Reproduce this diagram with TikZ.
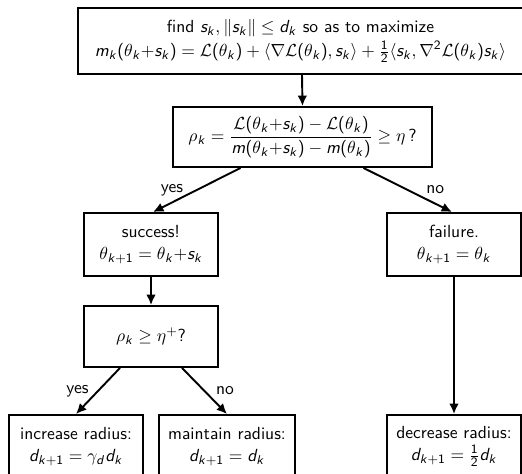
\documentclass[tikz,border=0pt]{standalone}
\usetikzlibrary{arrows.meta,calc}
\renewcommand{\familydefault}{\sfdefault}
\DeclareSymbolFont{sfit}{OT1}{cmss}{m}{sl}
\DeclareMathSymbol{s}{\mathalpha}{sfit}{`s}
\DeclareMathSymbol{k}{\mathalpha}{sfit}{`k}
\DeclareMathSymbol{d}{\mathalpha}{sfit}{`d}
\DeclareMathSymbol{m}{\mathalpha}{sfit}{`m}
\SetSymbolFont{operators}{normal}{OT1}{cmss}{m}{n}
\begin{document}
\begin{tikzpicture}[x=0.625pt,y=-0.625pt,
  box/.style={draw,line width=1.2pt,align=center,inner sep=0pt,font=\fontsize{10.95}{13.6}\selectfont\sffamily},
  arr/.style={line width=1.2pt,-{Latex[length=6.5pt,width=6pt]}},
  lbl/.style={inner sep=0pt,font=\fontsize{10.95}{13.6}\selectfont\sffamily}]
\path[use as bounding box,clip] (0,0) rectangle (522,473);
\node[box,minimum width=278.1pt,minimum height=41.25pt] (top) at (300.5,41)
  {find $s_k, \|s_k\| \le d_k$ so as to maximize\\[1pt]
   $m_k(\theta_k{+}s_k) = \mathcal{L}(\theta_k) + \langle\nabla\mathcal{L}(\theta_k), s_k\rangle + \frac{1}{2}\langle s_k, \nabla^2\mathcal{L}(\theta_k)s_k\rangle$};
\node[box,minimum width=161.9pt,minimum height=37.5pt] (rho) at (302.5,137)
  {$\displaystyle\rho_k = \frac{\mathcal{L}(\theta_k{+}s_k) - \mathcal{L}(\theta_k)}{m(\theta_k{+}s_k) - m(\theta_k)} \ge \eta\,?$};
\node[box,minimum width=83.75pt,minimum height=39.4pt] (succ) at (151,244.5)
  {success!\\ $\theta_{k+1} = \theta_k{+}s_k$};
\node[box,minimum width=83.75pt,minimum height=39.4pt] (fail) at (454,244.5)
  {failure.\\ $\theta_{k+1} = \theta_k$};
\node[box,minimum width=83.75pt,minimum height=38.1pt] (rhop) at (151,336.5)
  {$\rho_k \ge \eta^+$?};
\node[box,minimum width=83.75pt,minimum height=39.4pt] (inc) at (76,446.5)
  {increase radius:\\ $d_{k+1} = \gamma_d d_k$};
\node[box,minimum width=85pt,minimum height=39.4pt] (keep) at (227,446.5)
  {maintain radius:\\ $d_{k+1} = d_k$};
\node[box,minimum width=83.75pt,minimum height=39.4pt] (dec) at (454,446.5)
  {decrease radius:\\ $d_{k+1} = \frac{1}{2} d_k$};
\draw[arr] ($(top.south)+(1.5,0)$) -- (rho.north);
\draw[arr] ($(rho.south)+(-62,0)$) -- ($(succ.north)+(2,0)$)
  node[lbl,midway,anchor=east,xshift=-8pt] {yes};
\draw[arr] ($(rho.south)+(61,0)$) -- ($(fail.north)+(-2,0)$)
  node[lbl,midway,anchor=west,xshift=11pt] {no};
\draw[arr] (succ.south) -- (rhop.north);
\draw[arr] ($(rhop.south)+(-31,0)$) -- (inc.north)
  node[lbl,midway,anchor=east,xshift=-5.3pt] {yes};
\draw[arr] ($(rhop.south)+(31,0)$) -- (keep.north)
  node[lbl,midway,anchor=west,xshift=6.6pt] {no};
\draw[arr] (fail.south) -- (dec.north);
\end{tikzpicture}
\end{document}
